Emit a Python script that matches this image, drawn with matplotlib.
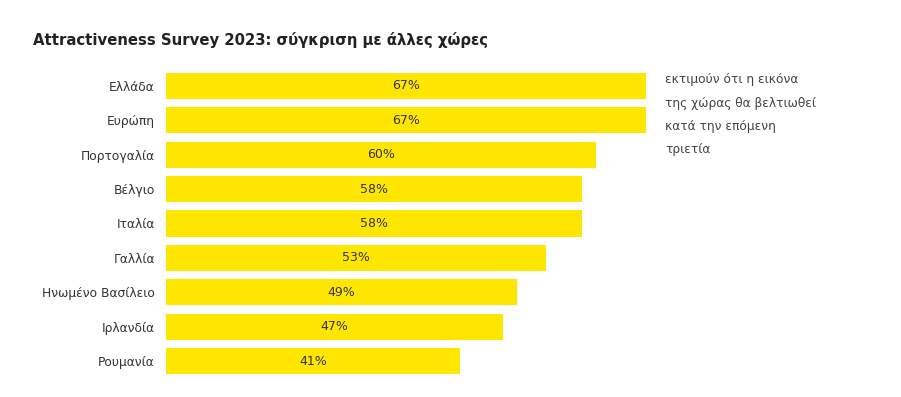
import matplotlib.pyplot as plt

# Δεδομένα
xwres = ["Ελλάδα", "Ευρώπη", "Πορτογαλία", "Βέλγιο", "Ιταλία",
         "Γαλλία", "Ηνωμένο Βασίλειο", "Ιρλανδία", "Ρουμανία"]
pososta = [67, 67, 60, 58, 58, 53, 49, 47, 41]

titlos = "Attractiveness Survey 2023: σύγκριση με άλλες χώρες"
simeiwsi = "εκτιμούν ότι η εικόνα\nτης χώρας θα βελτιωθεί\nκατά την επόμενη\nτριετία"

kitrino = "#FFE600"
keimeno = "#333333"

W, H = 901, 397
fig = plt.figure(figsize=(W / 100, H / 100), dpi=100)
ax = fig.add_axes([166 / W, 1 - 378.2 / H, (646 - 166) / W, 309.4 / H])

thesis = list(range(len(xwres)))
ax.barh(thesis, pososta, height=0.76, color=kitrino)
for y, v in zip(thesis, pososta):
    ax.text(v / 2, y, f"{v}%", ha="center", va="center", fontsize=9, color=keimeno)

ax.set_xlim(0, 67)
ax.set_ylim(len(xwres) - 0.5, -0.5)
ax.set_yticks(thesis)
ax.set_yticklabels(xwres, fontsize=8.8, color=keimeno)
ax.tick_params(axis="y", length=0, pad=8)
ax.set_xticks([])
for s in ax.spines.values():
    s.set_visible(False)

fig.text(33 / W, 1 - 40 / H, titlos, fontsize=10.7, fontweight="bold",
         color="#222222", va="center", ha="left")
fig.text(665 / W, 1 - 73 / H, simeiwsi, fontsize=8.8, color="#444444",
         va="top", ha="left", linespacing=2.05)

fig.savefig("out.png", dpi=100)
